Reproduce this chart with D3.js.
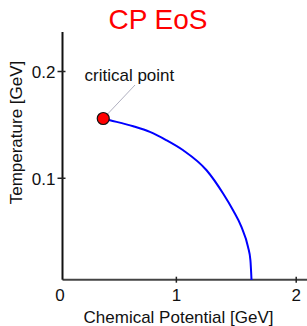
<!DOCTYPE html>
<html>
<head>
<meta charset="utf-8">
<script src="https://cdn.jsdelivr.net/npm/d3@7"></script>
<style>
  body { margin: 0; background: #fff; }
  text { font-family: "Liberation Sans", Arial, sans-serif; }
</style>
</head>
<body>
<svg id="chart" width="307" height="326"></svg>
<script>
// phase boundary (mu, T) in GeV
const mu = [0.39, 0.446, 0.640, 0.779, 0.918, 1.057, 1.252, 1.390, 1.473, 1.543, 1.598, 1.618, 1.627]
const temp = [0.156, 0.1544, 0.1487, 0.1434, 0.1356, 0.1262, 0.1075, 0.0857, 0.0700, 0.0544, 0.0356, 0.0231, 0.0047]
const criticalPoint = [0.39, 0.156]
const xTicks = [1, 2]
const yTicks = [0.1, 0.2]

const svg = d3.select("#chart")

const x = d3.scaleLinear()
    .domain([0.05, 2.09])
    .range([62.5, 307])

const y = d3.scaleLinear()
    .domain([0.005, 0.237])
    .range([279.7, 32])

// axes
const xAxis = svg.append("g")
    .attr("transform", "translate(0,279.7)")
xAxis.append("line")
    .attr("x1", x(0.05)).attr("x2", x(2.09))
    .attr("stroke", "#444").attr("stroke-width", 2)
xAxis.selectAll(".tick")
    .data(xTicks)
    .enter().append("line")
    .attr("x1", d => x(d)).attr("x2", d => x(d))
    .attr("y1", -3).attr("y2", 3)
    .attr("stroke", "#222").attr("stroke-width", 1.5)
xAxis.selectAll(".lbl")
    .data([0].concat(xTicks))
    .enter().append("text")
    .attr("x", d => d === 0 ? 60 : x(d))
    .attr("y", 21)
    .attr("text-anchor", "middle")
    .attr("font-size", "17px")
    .attr("fill", "#111")
    .text(d => d)

const yAxis = svg.append("g")
    .attr("transform", "translate(62.5,0)")
yAxis.append("line")
    .attr("y1", y(0.005)).attr("y2", y(0.237))
    .attr("stroke", "#111").attr("stroke-width", 2)
yAxis.selectAll(".tick")
    .data(yTicks)
    .enter().append("line")
    .attr("y1", d => y(d)).attr("y2", d => y(d))
    .attr("x1", -5).attr("x2", 3)
    .attr("stroke", "#222").attr("stroke-width", 1.5)
yAxis.selectAll(".lbl")
    .data(yTicks)
    .enter().append("text")
    .attr("x", -7)
    .attr("y", d => y(d) + 6.5)
    .attr("text-anchor", "end")
    .attr("font-size", "17px")
    .attr("fill", "#111")
    .text(d => d)

// title and axis labels
svg.append("text")
    .attr("x", 158)
    .attr("y", 28.5)
    .attr("text-anchor", "middle")
    .attr("font-size", "28px")
    .attr("fill", "#ff0000")
    .text("CP EoS")

svg.append("text")
    .attr("x", 178.5)
    .attr("y", 323)
    .attr("text-anchor", "middle")
    .attr("font-size", "17px")
    .attr("fill", "#111")
    .text("Chemical Potential [GeV]")

svg.append("text")
    .attr("transform", "translate(22,132.5) rotate(-90)")
    .attr("text-anchor", "middle")
    .attr("font-size", "17px")
    .attr("fill", "#111")
    .text("Temperature [GeV]")

// boundary curve
const line = d3.line()
    .x(d => x(d[0]))
    .y(d => y(d[1]))
    .curve(d3.curveMonotoneX)

svg.append("path")
    .datum(mu.map((m, i) => [m, temp[i]]))
    .attr("d", line)
    .attr("fill", "none")
    .attr("stroke", "#0000ff")
    .attr("stroke-width", 2)

// critical point + leader line
const cx = x(criticalPoint[0]), cy = y(criticalPoint[1])
svg.append("line")
    .attr("x1", cx + 3).attr("y1", cy - 3)
    .attr("x2", 135).attr("y2", 85)
    .attr("stroke", "#b0b0c0").attr("stroke-width", 1)

svg.append("circle")
    .attr("cx", cx)
    .attr("cy", cy)
    .attr("r", 6)
    .attr("fill", "#ff0000")
    .attr("stroke", "#111")
    .attr("stroke-width", 1.2)

svg.append("text")
    .attr("x", 84.5)
    .attr("y", 80.7)
    .attr("font-size", "17px")
    .attr("fill", "#111")
    .text("critical point")
</script>
</body>
</html>
